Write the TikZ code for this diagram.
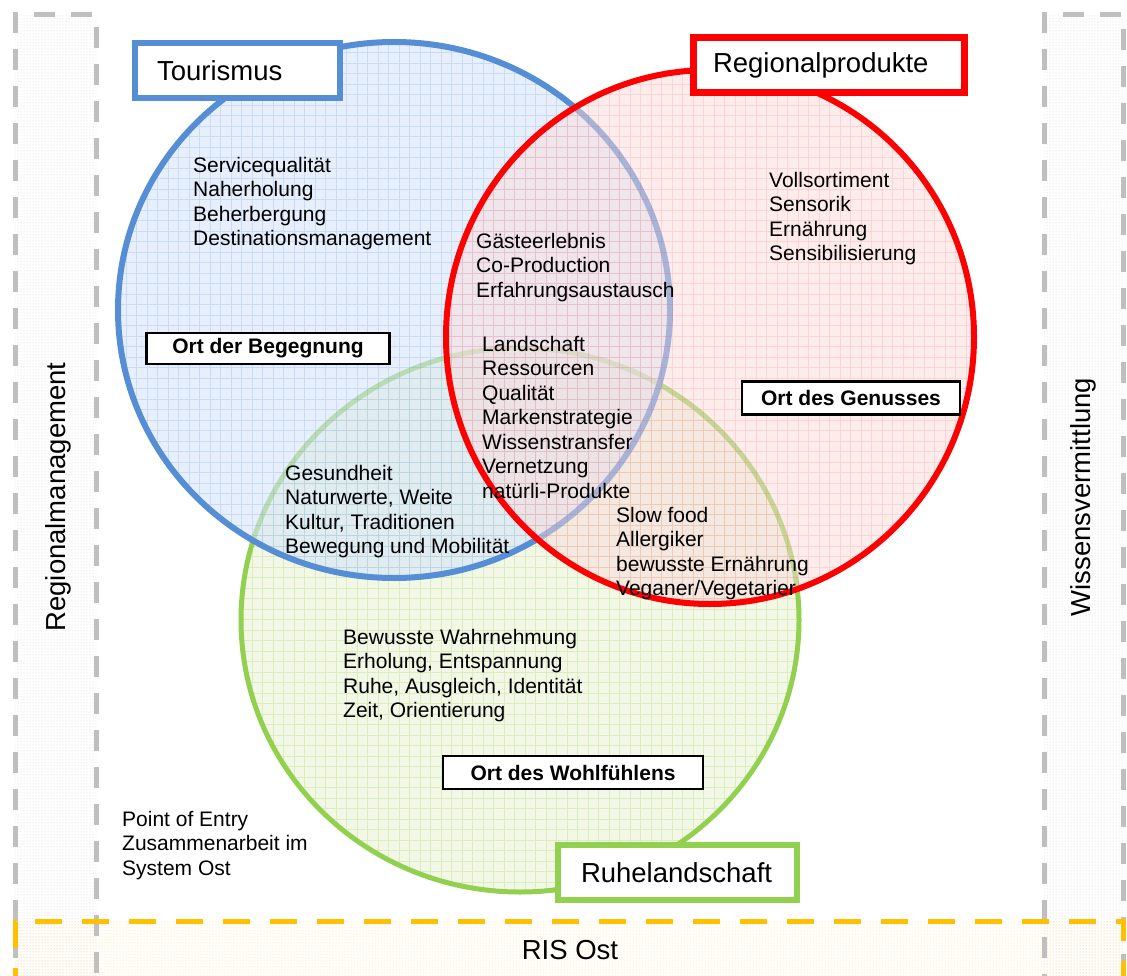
\documentclass[tikz,border=0pt]{standalone}
\usepackage{fontspec}
\setmainfont{Liberation Sans}
\usetikzlibrary{patterns}
\definecolor{tourblue}{RGB}{85,142,213}
\definecolor{regred}{RGB}{255,0,0}
\definecolor{ruhegreen}{RGB}{146,208,80}
\definecolor{framegrey}{RGB}{191,191,191}
\definecolor{risorange}{RGB}{255,192,0}
\definecolor{tourfill}{RGB}{214,229,248}
\definecolor{regfill}{RGB}{250,218,218}
\definecolor{ruhefill}{RGB}{233,241,214}
\tikzstyle{titlebox} = [draw, line width=6pt, fill=white, minimum height=55pt,
    inner ysep=0pt, align=left, font=\fontsize{27.5}{33}\selectfont]
\tikzstyle{ortbox} = [draw, line width=2.5pt, fill=white, inner sep=0pt,
    font=\bfseries\fontsize{21}{24}\selectfont]
\tikzstyle{topics} = [anchor=north west, inner sep=0pt, align=left,
    font=\fontsize{21}{24.5}\selectfont]
\tikzstyle{bigtext} = [font=\fontsize{27.5}{33}\selectfont]
\tikzstyle{greydash} = [draw=framegrey, line width=5pt, dash pattern=on 21pt off 16pt]
\tikzstyle{orangedash} = [draw=risorange, line width=5pt, dash pattern=on 27pt off 20pt]

\begin{document}
\begin{tikzpicture}[x=1pt, y=-1pt]
\useasboundingbox (0,0) rectangle (1127,976);
\clip (0,0) rectangle (1127,976);
    %frames
    \fill[pattern=dots, pattern color=framegrey!70] (15,15) rectangle (96,995);
    \fill[pattern=dots, pattern color=framegrey!70] (1044,15) rectangle (1123,995);
    \fill[pattern=dots, pattern color=risorange!55] (15,921) rectangle (1123,995);
    \draw[greydash] (15,995) -- (15,15) -- (96,15) -- (96,995);
    \draw[greydash] (1044,995) -- (1044,15) -- (1123,15) -- (1123,995);
    \draw[orangedash] (15,995) -- (15,921) -- (1123,921) -- (1123,995);
    %circles
    \coordinate (ruhe) at (520,620);
    \coordinate (tour) at (394,310);
    \coordinate (regio) at (710,337);
    \begin{scope}
        \clip (ruhe) ellipse [x radius=279, y radius=272];
        \fill[ruhefill, fill opacity=.6] (ruhe) ellipse [x radius=279, y radius=272];
        \draw[ruhegreen, draw opacity=.25, line width=.7pt, step=10.5pt] (230,900) grid (810,340);
    \end{scope}
    \draw[ruhegreen, line width=5pt] (ruhe) ellipse [x radius=279, y radius=272];
    \begin{scope}
        \clip (tour) ellipse [x radius=276, y radius=268];
        \fill[tourfill, fill opacity=.6] (tour) ellipse [x radius=276, y radius=268];
        \draw[tourblue, draw opacity=.2, line width=.7pt, step=10.5pt] (110,590) grid (680,35);
    \end{scope}
    \draw[tourblue, line width=6pt] (tour) ellipse [x radius=276, y radius=268];
    \begin{scope}
        \clip (regio) ellipse [x radius=264, y radius=267];
        \fill[regfill, fill opacity=.5] (regio) ellipse [x radius=264, y radius=267];
        \draw[regred, draw opacity=.1, line width=.7pt, step=10.5pt] (440,610) grid (980,65);
    \end{scope}
    \draw[regred, line width=6pt] (regio) ellipse [x radius=264, y radius=267];
    %titles
    \node[titlebox, draw=tourblue, text width=161pt, inner xsep=22pt] (tourismus) at (237.5,70.5) {Tourismus};
    \node[titlebox, draw=regred, line width=7pt, text width=232pt, inner xsep=19.5pt] (regionalprodukte) at (829,65.5) {Regionalprodukte};
    \node[titlebox, draw=ruhegreen, text width=193pt, inner xsep=23pt] (ruhelandschaft) at (677.5,872.5) {Ruhelandschaft};
    %places
    \node[ortbox, minimum width=243pt, minimum height=31pt] (begegnung) at (268,348.5) {Ort der Begegnung};
    \node[ortbox, minimum width=218pt, minimum height=33pt] (genuss) at (851,398) {Ort des Genusses};
    \node[ortbox, minimum width=260pt, minimum height=33pt] (wohlfuehlen) at (573,772.5) {Ort des Wohlfühlens};
    %topics
    \node[topics] (tourtxt) at (193,155) {\strut Servicequalität\\Naherholung\\Beherbergung\\Destinationsmanagement};
    \node[topics] (tourregio) at (476,231) {\strut Gästeerlebnis\\Co-Production\\Erfahrungsaustausch};
    \node[topics] (mitte) at (482,334) {\strut Landschaft\\Ressourcen\\Qualität\\Markenstrategie\\Wissenstransfer\\Vernetzung\\natürli-Produkte};
    \node[topics] (regiotxt) at (769,170) {\strut Vollsortiment\\Sensorik\\Ernährung\\Sensibilisierung};
    \node[topics] (tourruhe) at (285,463) {\strut Gesundheit\\Naturwerte, Weite\\Kultur, Traditionen\\Bewegung und Mobilität};
    \node[topics] (regioruhe) at (616,505) {\strut Slow food\\Allergiker\\bewusste Ernährung\\Veganer/Vegetarier};
    \node[topics] (ruhetxt) at (343,627) {\strut Bewusste Wahrnehmung\\Erholung, Entspannung\\Ruhe, Ausgleich, Identität\\Zeit, Orientierung};
    \node[topics] (entry) at (122,809) {\strut Point of Entry\\Zusammenarbeit im\\System Ost};
    %frame labels
    \node[bigtext, rotate=90] (management) at (58,497) {Regionalmanagement};
    \node[bigtext, rotate=90] (vermittlung) at (1083,497) {Wissensvermittlung};
    \node[bigtext] (ris) at (570,950) {RIS Ost};
\end{tikzpicture}
\end{document}
